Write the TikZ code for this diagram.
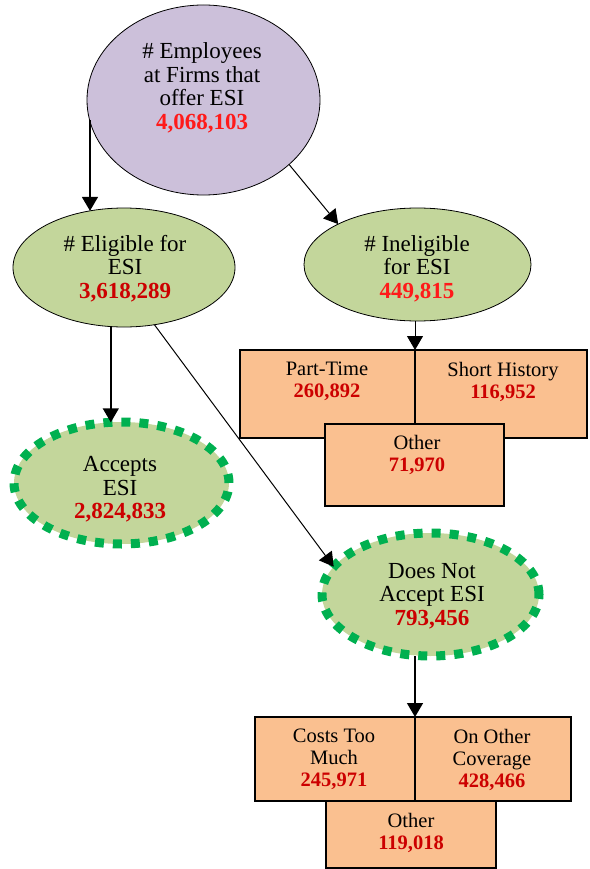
\documentclass[tikz,border=0pt]{standalone}
\usepackage{fontspec}
\setmainfont{Liberation Serif}
\usetikzlibrary{shapes.geometric,arrows.meta}
\definecolor{lav}{HTML}{CCC0DA}
\definecolor{lgreen}{HTML}{C3D69B}
\definecolor{peach}{HTML}{FAC090}
\definecolor{dgreen}{HTML}{00B050}
\definecolor{brightred}{HTML}{FF1A1A}
\definecolor{numred}{HTML}{CC0000}
\begin{document}
\begin{tikzpicture}[x=1pt,y=-1pt,
  ell/.style={ellipse, draw=black, line width=0.8pt, inner sep=0pt, outer sep=0pt},
  dashell/.style={ellipse, draw=dgreen, fill=lgreen, line width=9pt, dash pattern=on 9pt off 9pt, inner sep=0pt, outer sep=0pt},
  obox/.style={rectangle, draw=black, fill=peach, line width=1.5pt, inner sep=0pt, outer sep=0pt, anchor=north west},
  etxt/.style={align=center, font=\fontsize{23}{23.5}\selectfont, inner sep=0pt},
  btxt/.style={align=center, font=\fontsize{20.5}{22}\selectfont, inner sep=0pt},
  arr/.style={-{Triangle[length=14pt,width=16pt]}, line width=1.5pt},
  tarr/.style={-{Triangle[length=14pt,width=16pt]}, line width=1pt}
]
\useasboundingbox (0,0) rectangle (589,869);

% ellipses
\node[ell, fill=lav, minimum width=233pt, minimum height=190pt] (top) at (203.5,100) {};
\node[ell, fill=lgreen, minimum width=222pt, minimum height=119pt] (elig) at (124,267.5) {};
\node[ell, fill=lgreen, minimum width=227pt, minimum height=113pt] (inel) at (417.5,264.5) {};
\node[dashell, minimum width=215pt, minimum height=122pt] (acc) at (121.5,483) {};
\node[dashell, minimum width=217pt, minimum height=123pt] (dna) at (430.5,594.5) {};

% boxes (ineligible)
\node[obox, minimum width=175pt, minimum height=88pt] (pt) at (240,350) {};
\node[obox, minimum width=172pt, minimum height=88pt] (sh) at (415,350) {};
\node[obox, minimum width=179pt, minimum height=82pt] (oth1) at (325,424) {};
% boxes (does not accept)
\node[obox, minimum width=160pt, minimum height=84pt] (ctm) at (255,717) {};
\node[obox, minimum width=156pt, minimum height=84pt] (ooc) at (415,717) {};
\node[obox, minimum width=170pt, minimum height=67pt] (oth2) at (326,801) {};

% texts
\node[etxt] (ttop) at (202,88) {\# Employees\\at Firms that\\offer ESI\\\textbf{\textcolor{brightred}{4,068,103}}};
\node[etxt] (telig) at (125,268.5) {\# Eligible for\\ESI\\\textbf{\textcolor{numred}{3,618,289}}};
\node[etxt] (tinel) at (417,268.5) {\# Ineligible\\for ESI\\\textbf{\textcolor{brightred}{449,815}}};
\node[etxt] (tacc) at (120,489.5) {Accepts\\ESI\\\textbf{\textcolor{numred}{2,824,833}}};
\node[etxt] (tdna) at (432,596) {Does Not\\Accept ESI\\\textbf{\textcolor{numred}{793,456}}};
\node[btxt] (tpt) at (327,381.5) {Part-Time\\\textbf{\textcolor{numred}{260,892}}};
\node[btxt] (tsh) at (503,381.5) {Short History\\\textbf{\textcolor{numred}{116,952}}};
\node[btxt] (toth1) at (417,454.5) {Other\\\textbf{\textcolor{numred}{71,970}}};
\node[btxt] (tctm) at (334,759.5) {Costs Too\\Much\\\textbf{\textcolor{numred}{245,971}}};
\node[btxt] (tooc) at (492,759.5) {On Other\\Coverage\\\textbf{\textcolor{numred}{428,466}}};
\node[btxt] (toth2) at (411,832.5) {Other\\\textbf{\textcolor{numred}{119,018}}};

% connectors
\draw[arr] (elig.121 |- top.190) -- (elig.121);
\draw[tarr] (top.323) -- (inel.153);
\draw[arr] (acc.100 |- elig.257) -- (acc.100);
\draw[tarr] (elig.298) -- (dna.164);
\draw[tarr] (pt.north east |- inel.south) -- (pt.north east);
\draw[arr] (ctm.north east |- dna.south) -- (ctm.north east);
\end{tikzpicture}
\end{document}
